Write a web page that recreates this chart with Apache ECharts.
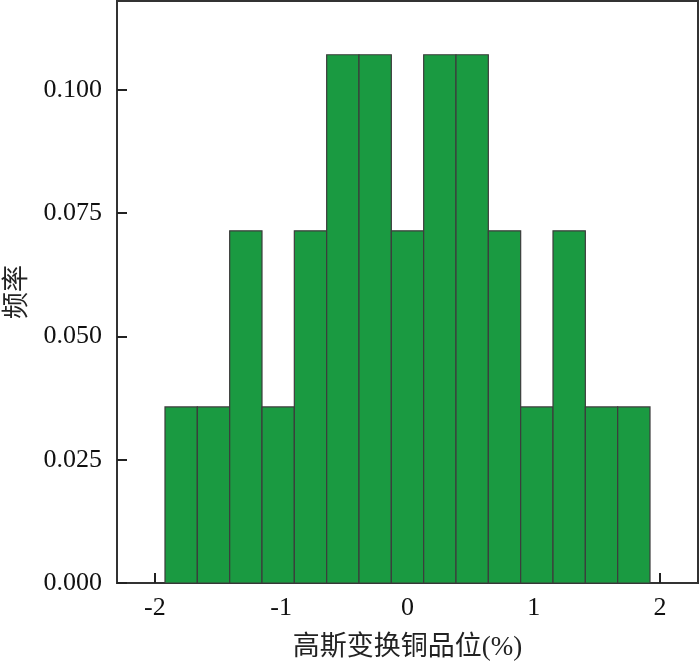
<!DOCTYPE html>
<html>
<head>
<meta charset="utf-8">
<script src="https://cdn.jsdelivr.net/npm/echarts@6/dist/echarts.min.js"></script>
<style>html,body{margin:0;padding:0;background:#fff}#c{width:700px;height:665px}</style>
</head>
<body>
<div id="c"></div>
<script>
// Histogram bin edges (Gaussian-transformed copper grade, %)
var binEdges = [-1.92, -1.664, -1.408, -1.152, -0.896, -0.64, -0.384, -0.128, 0.128, 0.384, 0.64, 0.896, 1.152, 1.408, 1.664, 1.92];
// Frequency per bin
var frequencies = [0.0357, 0.0357, 0.0714, 0.0357, 0.0714, 0.1071, 0.1071, 0.0714, 0.1071, 0.1071, 0.0714, 0.0357, 0.0714, 0.0357, 0.0357];
var xTicks = [-2, -1, 0, 1, 2];
var yTicks = [0, 0.025, 0.05, 0.075, 0.1];
var xName = '高斯变换铜品位(%)';
var yName = '频率';

var data = frequencies.map(function (f, i) { return [binEdges[i], binEdges[i + 1], f]; });

var serif = '"Liberation Serif", "Noto Sans CJK SC", serif';
var chart = echarts.init(document.getElementById('c'));
chart.setOption({
  animation: false,
  backgroundColor: '#fff',
  grid: { left: 117, right: 2, top: 1, bottom: 82, show: true, borderColor: '#333', borderWidth: 2,
    backgroundColor: 'transparent', containLabel: false, outerBoundsMode: 'none' },
  xAxis: {
    type: 'value', min: -2.3, max: 2.3,
    name: xName, nameLocation: 'middle', nameGap: 51,
    nameTextStyle: { fontFamily: serif, fontSize: 27, color: '#222' },
    axisLine: { show: true, onZero: false, lineStyle: { color: '#333', width: 2 } },
    axisTick: { show: true, inside: true, length: 10, customValues: xTicks, lineStyle: { color: '#222', width: 2 } },
    axisLabel: { customValues: xTicks, fontFamily: serif, fontSize: 26, color: '#111', margin: 12,
      formatter: function (v) { return String(v); } },
    splitLine: { show: false }
  },
  yAxis: {
    type: 'value', min: 0, max: 0.118,
    name: yName, nameLocation: 'middle', nameGap: 86, nameRotate: 90,
    nameTextStyle: { fontFamily: serif, fontSize: 27, color: '#222' },
    axisLine: { show: true, onZero: false, lineStyle: { color: '#333', width: 2 } },
    axisTick: { show: true, inside: true, length: 10, customValues: yTicks, lineStyle: { color: '#222', width: 2 } },
    axisLabel: { customValues: yTicks, fontFamily: serif, fontSize: 26, color: '#111', margin: 15,
      formatter: function (v) { return v.toFixed(3); } },
    splitLine: { show: false }
  },
  series: [{
    type: 'custom',
    data: data,
    encode: { x: [0, 1], y: 2 },
    renderItem: function (params, api) {
      var p0 = api.coord([api.value(0), api.value(2)]);
      var p1 = api.coord([api.value(1), 0]);
      return {
        type: 'rect',
        shape: { x: p0[0], y: p0[1], width: p1[0] - p0[0], height: p1[1] - p0[1] },
        style: { fill: '#1a9a41', stroke: '#3c3c3c', lineWidth: 1.2 }
      };
    }
  }]
});
</script>
</body>
</html>
